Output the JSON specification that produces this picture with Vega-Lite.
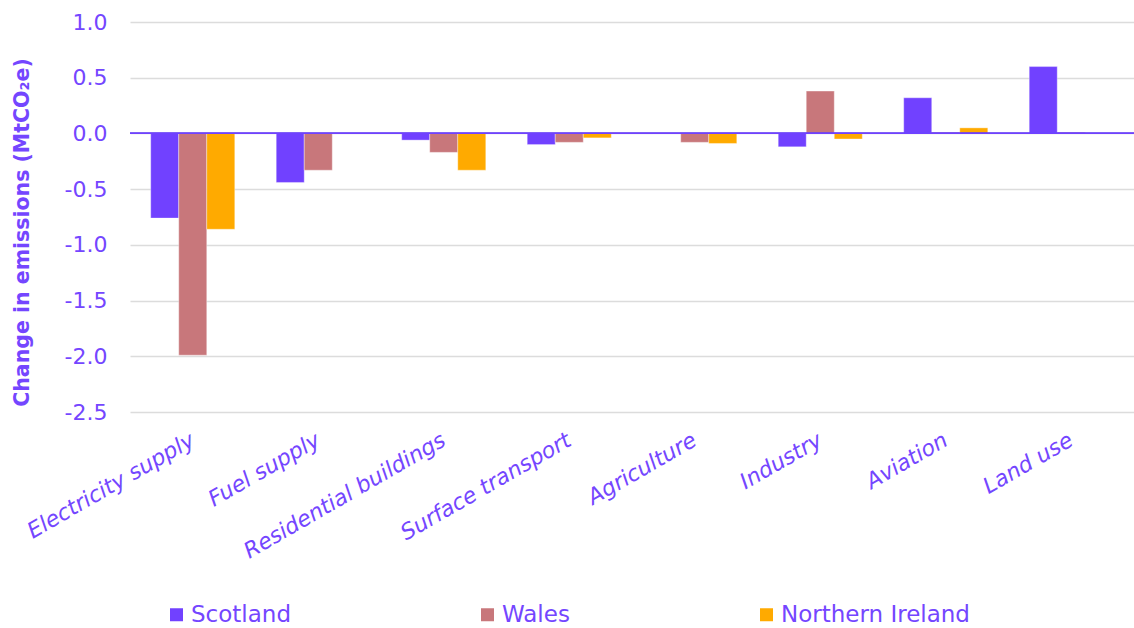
{
  "$schema": "https://vega.github.io/schema/vega-lite/v6.json",
  "autosize": "none",
  "width": 1004,
  "height": 390,
  "padding": {"left": 130, "top": 22, "right": 0, "bottom": 216},
  "background": "white",
  "config": {
    "view": {"stroke": null},
    "font": "DejaVu Sans"
  },
  "data": {
    "values": [
      {"sector": "Electricity supply", "nation": "Scotland", "change": -0.76},
      {"sector": "Electricity supply", "nation": "Wales", "change": -1.99},
      {"sector": "Electricity supply", "nation": "Northern Ireland", "change": -0.86},
      {"sector": "Fuel supply", "nation": "Scotland", "change": -0.44},
      {"sector": "Fuel supply", "nation": "Wales", "change": -0.33},
      {"sector": "Residential buildings", "nation": "Scotland", "change": -0.06},
      {"sector": "Residential buildings", "nation": "Wales", "change": -0.17},
      {"sector": "Residential buildings", "nation": "Northern Ireland", "change": -0.33},
      {"sector": "Surface transport", "nation": "Scotland", "change": -0.10},
      {"sector": "Surface transport", "nation": "Wales", "change": -0.08},
      {"sector": "Surface transport", "nation": "Northern Ireland", "change": -0.04},
      {"sector": "Agriculture", "nation": "Scotland", "change": -0.005},
      {"sector": "Agriculture", "nation": "Wales", "change": -0.08},
      {"sector": "Agriculture", "nation": "Northern Ireland", "change": -0.09},
      {"sector": "Industry", "nation": "Scotland", "change": -0.12},
      {"sector": "Industry", "nation": "Wales", "change": 0.38},
      {"sector": "Industry", "nation": "Northern Ireland", "change": -0.05},
      {"sector": "Aviation", "nation": "Scotland", "change": 0.32},
      {"sector": "Aviation", "nation": "Wales", "change": 0.01},
      {"sector": "Aviation", "nation": "Northern Ireland", "change": 0.05},
      {"sector": "Land use", "nation": "Scotland", "change": 0.60},
      {"sector": "Land use", "nation": "Wales", "change": 0.01}
    ]
  },
  "layer": [
    {
      "mark": {"type": "bar", "stroke": "white", "strokeWidth": 0.6, "strokeOpacity": 0.6},
      "encoding": {
        "x": {
          "field": "sector",
          "type": "nominal",
          "sort": null,
          "scale": {"paddingInner": 0.33, "paddingOuter": 0.165},
          "axis": {
            "title": null,
            "domain": false,
            "ticks": false,
            "tickSize": 0,
            "labelAngle": -30,
            "labelAlign": "right",
            "labelBaseline": "middle",
            "labelPadding": 26,
            "labelFont": "DejaVu Sans",
            "labelFontSize": 22,
            "labelFontStyle": "italic",
            "labelColor": "#7446ff",
            "labelLimit": 400
          }
        },
        "xOffset": {
          "field": "nation",
          "type": "nominal",
          "sort": ["Scotland", "Wales", "Northern Ireland"],
          "scale": {"paddingInner": 0, "paddingOuter": 0}
        },
        "y": {
          "field": "change",
          "type": "quantitative",
          "scale": {"domain": [-2.5, 1.0], "nice": false, "zero": false},
          "axis": {
            "title": "Change in emissions (MtCO₂e)",
            "titleFont": "DejaVu Sans",
            "titleFontSize": 20.5,
            "titleFontWeight": "bold",
            "titleColor": "#7446ff",
            "titleAngle": 270,
            "titleAlign": "center",
            "titleBaseline": "middle",
            "titleX": -108,
            "titleY": 210,
            "values": [-2.5, -2.0, -1.5, -1.0, -0.5, 0.0, 0.5, 1.0],
            "labelExpr": "replace(format(datum.value, '.1f'), '−', '-')",
            "domain": false,
            "ticks": false,
            "tickSize": 0,
            "labelPadding": 23,
            "labelFont": "DejaVu Sans",
            "labelFontSize": 22,
            "labelColor": "#7446ff",
            "grid": true,
            "gridColor": "#dcdcdc",
            "gridWidth": 1.5
          }
        },
        "color": {
          "field": "nation",
          "type": "nominal",
          "scale": {
            "domain": ["Scotland", "Wales", "Northern Ireland"],
            "range": ["#7141ff", "#c8777b", "#ffaa00"]
          },
          "legend": {
            "title": null,
            "orient": "none",
            "direction": "horizontal",
            "columns": 3,
            "legendX": 35,
            "legendY": 581,
            "symbolType": "square",
            "symbolSize": 169,
            "symbolStrokeWidth": 0,
            "symbolOffset": 0,
            "labelOffset": 3,
            "labelFont": "DejaVu Sans",
            "labelFontSize": 23,
            "labelColor": "#7446ff",
            "labelLimit": 300,
            "columnPadding": 185
          }
        }
      }
    },
    {
      "mark": {"type": "rule", "color": "#7141ff", "strokeWidth": 1},
      "encoding": {"y": {"datum": 0}}
    }
  ]
}
